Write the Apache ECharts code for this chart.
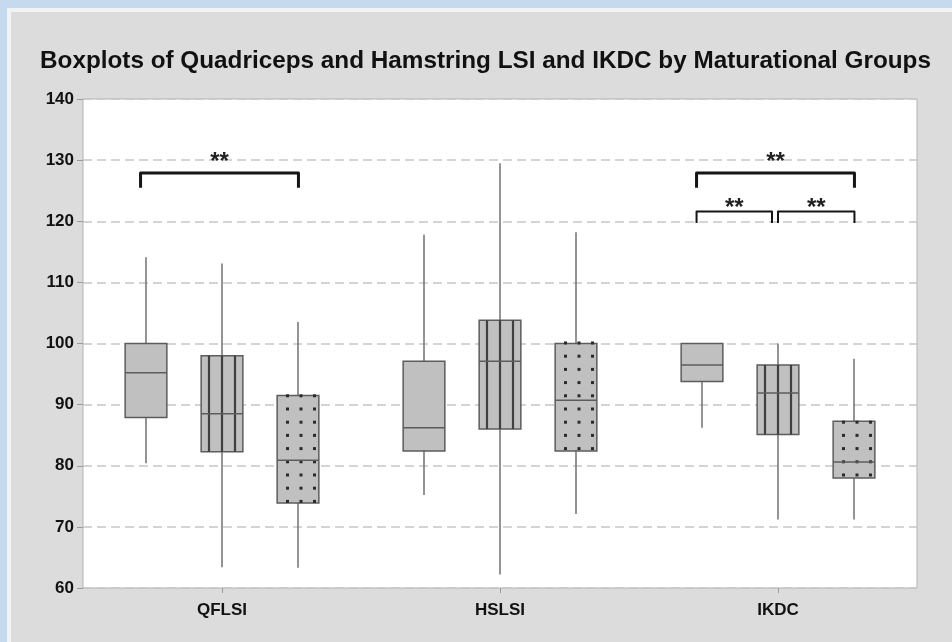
<!DOCTYPE html>
<html>
<head>
<meta charset="utf-8">
<title>Boxplots by maturational groups</title>
<script src="https://cdn.jsdelivr.net/npm/echarts@6/dist/echarts.min.js"></script>
<style>
    html, body { margin: 0; padding: 0; width: 952px; height: 642px; background: #c6daef; overflow: hidden; }
    #panel { position: absolute; left: 7px; top: 8px; right: 0; bottom: 0; background: #dcdcdc;
             border-left: 4px solid #f3f3f3; border-top: 4px solid #f3f3f3; }
    #main { position: absolute; left: 0; top: 0; width: 952px; height: 642px; }
</style>
</head>
<body>
<div id="panel"></div>
<div id="main"></div>
<script>
// categories on the x axis
var categories = ['QFLSI', 'HSLSI', 'IKDC'];
// y axis range and tick step
var yMin = 60, yMax = 140, yStep = 10;

// box values per category: [min, Q1, median, Q3, max]
var group1 = [[80.4, 87.9, 95.2, 100.0, 114.1], [75.2, 82.4, 86.2, 97.1, 117.8], [86.2, 93.8, 96.5, 100.0, 100.0]];
var group2 = [[63.4, 82.3, 88.5, 98.0, 113.1], [62.2, 86.0, 97.1, 103.8, 129.5], [71.2, 85.1, 91.9, 96.5, 100.0]];
var group3 = [[63.3, 73.9, 80.9, 91.5, 103.5], [72.1, 82.4, 90.7, 100.0, 118.2], [71.2, 78.0, 80.6, 87.3, 97.5]];

// significance brackets: [category, from group, to group, bar value, leg end value, label value]
var brackets = [
    [0, 0, 2, 127.9, 125.5, 130.6],
    [2, 0, 2, 127.9, 125.5, 130.6],
    [2, 0, 1, 121.6, 119.7, 123.0],
    [2, 1, 2, 121.6, 119.7, 123.0]
];
var bracketLabels = ['**', '**', '**', '**'];

var FONT = '"Liberation Sans", Arial, sans-serif';
var boxOffsets = [-0.275, 0, 0.275];   // box centre, share of category band
var boxShare = 0.15;                    // box width, share of category band

function toRows(list) {
    var out = [];
    for (var i = 0; i < list.length; i++) {
        out.push([i].concat(list[i]));
    }
    return out;
}

function boxRenderer(groupIdx, pattern) {
    return function (params, api) {
        var cat = api.value(0);
        var band = api.size([1, 0])[0];
        var cx = Math.round(api.coord([cat, yMin])[0] + boxOffsets[groupIdx] * band);
        var w = band * boxShare;
        var yLo = api.coord([cat, api.value(1)])[1];
        var yQ1 = api.coord([cat, api.value(2)])[1];
        var yMed = api.coord([cat, api.value(3)])[1];
        var yQ3 = api.coord([cat, api.value(4)])[1];
        var yHi = api.coord([cat, api.value(5)])[1];
        var left = cx - w / 2, right = cx + w / 2;
        var whisker = { stroke: '#707070', lineWidth: 1.5 };
        var kids = [];
        kids.push({ type: 'line', shape: { x1: cx, y1: yHi, x2: cx, y2: yQ3 }, style: whisker });
        kids.push({ type: 'line', shape: { x1: cx, y1: yQ1, x2: cx, y2: yLo }, style: whisker });
        kids.push({ type: 'rect', shape: { x: left, y: yQ3, width: w, height: yQ1 - yQ3 },
                    style: { fill: '#c0c0c0', stroke: '#5c5c5c', lineWidth: 1.5 } });
        if (pattern === 'lines') {
            [-13, 0, 13].forEach(function (dx) {
                kids.push({ type: 'line', shape: { x1: cx + dx, y1: yQ3, x2: cx + dx, y2: yQ1 },
                            style: { stroke: '#404040', lineWidth: 2.2 } });
            });
        }
        if (pattern === 'dots') {
            // dot rows follow one grid across the plot
            var y0 = api.coord([cat, 74.17])[1];
            var step = 13.2;
            for (var k = -40; k < 40; k++) {
                var yy = y0 - k * step;
                if (yy < yQ3 - 1 || yy > yQ1 + 1) continue;
                [-10.5, 3, 16.5].forEach(function (dx) {
                    kids.push({ type: 'rect', shape: { x: cx + dx - 1.5, y: yy - 1.5, width: 3, height: 3 },
                                style: { fill: '#2a2a2a' } });
                });
            }
        }
        kids.push({ type: 'line', shape: { x1: left, y1: yMed, x2: right, y2: yMed },
                    style: { stroke: '#5c5c5c', lineWidth: 1.5 } });
        return { type: 'group', children: kids };
    };
}

var leftNudge = [-5, 0, 0];
var rightNudge = [0, -6, 0];
var starSize = 24;

function bracketRenderer(params, api) {
    var cat = api.value(0);
    var g1 = api.value(1), g2 = api.value(2);
    var band = api.size([1, 0])[0];
    var base = api.coord([cat, yMin])[0];
    var x1 = base + boxOffsets[g1] * band + leftNudge[g1];
    var x2 = base + boxOffsets[g2] * band + rightNudge[g2];
    var yBar = api.coord([cat, api.value(3)])[1];
    var yLeg = api.coord([cat, api.value(4)])[1];
    var yLab = api.coord([cat, api.value(5)])[1];
    var wide = (g2 - g1) > 1;
    return {
        type: 'group',
        children: [
            { type: 'polyline', shape: { points: [[x1, yLeg], [x1, yBar], [x2, yBar], [x2, yLeg]] },
              style: { stroke: '#151515', lineWidth: wide ? 3 : 2, fill: null, lineJoin: 'round' } },
            // asterisks sit high in the em box, so drop the text a little
            { type: 'text', x: (x1 + x2) / 2, y: yLab + starSize * 0.24,
              style: { text: bracketLabels[params.dataIndex], fill: '#222', font: 'bold ' + starSize + 'px ' + FONT,
                       align: 'center', verticalAlign: 'middle' } }
        ]
    };
}

var chart = echarts.init(document.getElementById('main'));
var option = {
    backgroundColor: 'transparent',
    animation: false,
    title: {
        text: 'Boxplots of Quadriceps and Hamstring LSI and IKDC by Maturational Groups',
        left: 35,
        top: 44,
        textStyle: { fontFamily: FONT, fontWeight: 'bold', fontSize: 24.3, color: '#111' }
    },
    grid: {
        left: 83, right: 35, top: 99, bottom: 54,
        show: true, backgroundColor: '#ffffff', borderColor: '#b2b2b2', borderWidth: 1
    },
    xAxis: {
        type: 'category',
        data: categories,
        axisLine: { show: false },
        axisTick: { show: true, alignWithLabel: true, length: 5, lineStyle: { color: '#9a9a9a' } },
        axisLabel: { fontFamily: FONT, fontWeight: 'bold', fontSize: 17, color: '#111', margin: 14 },
        splitLine: { show: false }
    },
    yAxis: {
        type: 'value',
        min: yMin, max: yMax, interval: yStep,
        axisLine: { show: false },
        axisTick: { show: true, length: 6, lineStyle: { color: '#9a9a9a' } },
        axisLabel: { fontFamily: FONT, fontWeight: 'bold', fontSize: 17, color: '#111', margin: 9 },
        splitLine: { show: true, lineStyle: { color: '#c6c6c6', width: 1.5, type: [9, 5] } }
    },
    series: [
        { type: 'custom', name: 'group1', data: toRows(group1), encode: { x: 0, y: [1, 2, 3, 4, 5] },
          renderItem: boxRenderer(0, 'plain') },
        { type: 'custom', name: 'group2', data: toRows(group2), encode: { x: 0, y: [1, 2, 3, 4, 5] },
          renderItem: boxRenderer(1, 'lines') },
        { type: 'custom', name: 'group3', data: toRows(group3), encode: { x: 0, y: [1, 2, 3, 4, 5] },
          renderItem: boxRenderer(2, 'dots') },
        { type: 'custom', name: 'brackets', data: brackets, encode: { x: 0, y: [3, 4, 5] }, z: 5,
          renderItem: bracketRenderer }
    ]
};
chart.setOption(option);
</script>
</body>
</html>
